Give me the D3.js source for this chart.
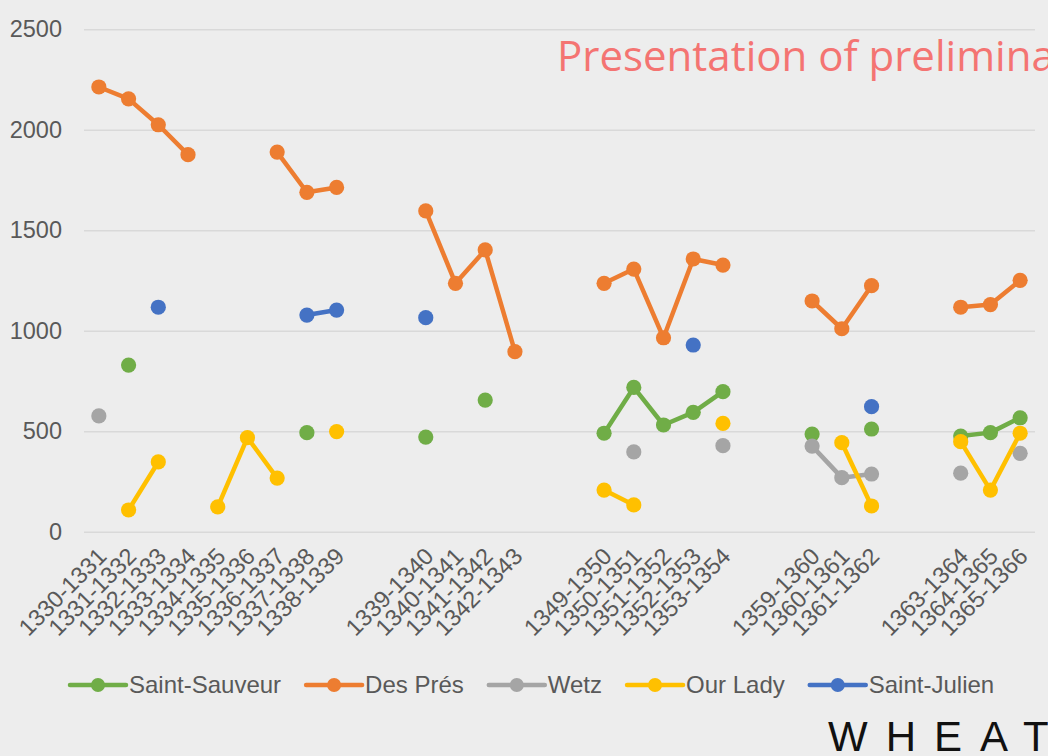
<!DOCTYPE html>
<html>
<head>
<meta charset="utf-8">
<script src="https://cdn.jsdelivr.net/npm/d3@7"></script>
<style>
  html, body { margin: 0; padding: 0; background: #ededed; }
  svg { display: block; font-family: "Liberation Sans", Arial, sans-serif; }
</style>
</head>
<body>
<div id="chart"></div>
<script>
const categories = [
  "1330-1331", "1331-1332", "1332-1333", "1333-1334", "1334-1335", "1335-1336",
  "1336-1337", "1337-1338", "1338-1339", "", "",
  "1339-1340", "1340-1341", "1341-1342", "1342-1343", "", "",
  "1349-1350", "1350-1351", "1351-1352", "1352-1353", "1353-1354", "", "",
  "1359-1360", "1360-1361", "1361-1362", "", "",
  "1363-1364", "1364-1365", "1365-1366"
]

const saintSauveur = [null, 829, null, null, null, null, null, 493, null, null, null,
  471, null, 655, null, null, null,
  490, 718, 531, 594, 697, null, null,
  486, null, 511, null, null,
  476, 493, 567]

const desPres = [2213, 2154, 2025, 1876, null, null, 1889, 1689, 1713, null, null,
  1596, 1236, 1402, 896, null, null,
  1236, 1307, 965, 1357, 1327, null, null,
  1148, 1010, 1224, null, null,
  1117, 1130, 1251]

const wetz = [576, null, null, null, null, null, null, null, null, null, null,
  null, null, null, null, null, null,
  null, 397, null, null, 428, null, null,
  426, 269, 287, null, null,
  291, null, 390]

const ourLady = [null, 108, 347, null, 124, 468, 267, null, 498, null, null,
  null, null, null, null, null, null,
  207, 133, null, null, 539, null, null,
  null, 443, 128, null, null,
  448, 207, 490]

const saintJulien = [null, null, 1117, null, null, null, null, 1078, 1103, null, null,
  1065, null, null, null, null, null,
  null, null, null, 929, null, null, null,
  null, null, 622, null, null,
  null, null, null]

const yTicks = [0, 500, 1000, 1500, 2000, 2500]

const series = [
  {name: "Saint-Sauveur", values: saintSauveur, color: "#70ad47"},
  {name: "Des Prés", values: desPres, color: "#ed7d31"},
  {name: "Wetz", values: wetz, color: "#a5a5a5"},
  {name: "Our Lady", values: ourLady, color: "#ffc000"},
  {name: "Saint-Julien", values: saintJulien, color: "#4472c4"}
]

const width = 1048
const height = 756
const margin = {top: 29.3, right: 13, bottom: 224.3, left: 84}

const svg = d3.select("#chart").append("svg")
  .attr("width", width)
  .attr("height", height)

svg.append("rect")
  .attr("width", width)
  .attr("height", height)
  .attr("fill", "#ededed")

const x = d3.scaleBand()
  .domain(d3.range(categories.length))
  .range([margin.left, width - margin.right])

const y = d3.scaleLinear()
  .domain([0, 2500])
  .range([height - margin.bottom, margin.top])

// gridlines + y labels
const yAxis = g => g
  .attr("transform", `translate(${margin.left}, 0)`)
  .call(d3.axisLeft(y)
    .tickValues(yTicks)
    .tickFormat(d3.format("d"))
    .tickSize(-(width - margin.left - margin.right))
    .tickPadding(22))
  .call(g => g.select(".domain").remove())
  .call(g => g.selectAll(".tick line")
    .attr("stroke", "#d9d9d9")
    .attr("stroke-width", 1.5))
  .call(g => g.selectAll(".tick text")
    .attr("fill", "#595959")
    .attr("font-size", "23.5px"))

svg.append("g").call(yAxis).attr("font-family", null)

// category labels, rotated
const xAxis = g => g
  .attr("transform", `translate(0, ${y(0) + 17})`)
  .call(d3.axisBottom(x)
    .tickFormat(i => categories[i])
    .tickSize(0)
    .tickPadding(0))
  .call(g => g.select(".domain").remove())
  .call(g => g.selectAll(".tick text")
    .attr("fill", "#595959")
    .attr("font-size", "23.5px")
    .attr("text-anchor", "end")
    .attr("y", 0)
    .attr("dy", "0.55em")
    .attr("transform", "rotate(-45)"))

svg.append("g").call(xAxis).attr("font-family", null)

const line = d3.line()
  .defined(d => d != null)
  .x((d, i) => x(i) + x.bandwidth() / 2)
  .y(d => y(d))

series.forEach(s => {
  const g = svg.append("g")
  g.append("path")
    .datum(s.values)
    .attr("fill", "none")
    .attr("stroke", s.color)
    .attr("stroke-width", 4.5)
    .attr("stroke-linejoin", "round")
    .attr("stroke-linecap", "round")
    .attr("d", line)
  g.selectAll("circle")
    .data(s.values.map((v, i) => ({v, i})).filter(d => d.v != null))
    .join("circle")
    .attr("cx", d => x(d.i) + x.bandwidth() / 2)
    .attr("cy", d => y(d.v))
    .attr("r", 7.6)
    .attr("fill", s.color)
})

// legend
const legend = svg.append("g").attr("transform", "translate(70, 685)")
let lx = 0
series.forEach(s => {
  const item = legend.append("g").attr("transform", `translate(${lx}, 0)`)
  item.append("line")
    .attr("x1", 0).attr("x2", 56)
    .attr("stroke", s.color)
    .attr("stroke-width", 4.5)
    .attr("stroke-linecap", "round")
  item.append("circle")
    .attr("cx", 28).attr("r", 7)
    .attr("fill", s.color)
  const t = item.append("text")
    .attr("x", 59)
    .attr("dy", "0.35em")
    .attr("fill", "#595959")
    .attr("font-size", "24px")
    .text(s.name)
  lx += 59 + t.node().getComputedTextLength() + 25
})

// title, running off the right edge as in the slide
svg.append("text")
  .attr("x", 557)
  .attr("y", 71)
  .attr("fill", "#f47472")
  .attr("font-family", "'Open Sans', sans-serif")
  .attr("font-size", "42px")
  .style("font-variant-ligatures", "none")
  .text("Presentation of preliminary results")

svg.append("text")
  .attr("x", 828)
  .attr("y", 751)
  .attr("fill", "#111")
  .attr("font-size", "42px")
  .attr("letter-spacing", "18px")
  .text("WHEAT")
</script>
</body>
</html>
